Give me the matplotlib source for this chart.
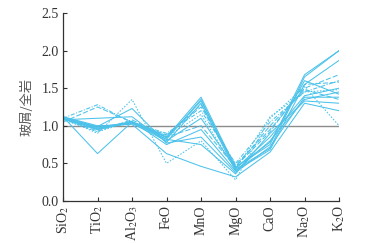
import numpy as np
import matplotlib
matplotlib.use("Agg")
import matplotlib.pyplot as plt

plt.rcParams['font.family'] = ['Liberation Serif', 'Noto Sans CJK SC']
plt.rcParams['mathtext.fontset'] = 'stix'

# oxide order along the x axis
oxides = ['SiO$_2$', 'TiO$_2$', 'Al$_2$O$_3$', 'FeO', 'MnO', 'MgO', 'CaO', 'Na$_2$O', 'K$_2$O']

# glass / whole rock ratios, one list per sample
s01 = [1.12, 0.63, 1.05, 0.85, 1.38, 0.45, 0.75, 1.68, 2.00]
s02 = [1.10, 0.98, 1.05, 0.82, 1.35, 0.42, 0.70, 1.65, 2.00]
s03 = [1.08, 1.10, 1.12, 0.78, 1.30, 0.40, 0.68, 1.55, 1.87]
s04 = [1.05, 1.25, 1.05, 0.88, 1.25, 0.48, 0.95, 1.50, 1.68]
s05 = [1.10, 1.28, 1.04, 0.90, 1.20, 0.50, 1.05, 1.45, 1.60]
s06 = [1.12, 0.97, 1.03, 0.80, 1.10, 0.43, 0.85, 1.40, 1.50]
s07 = [1.10, 0.95, 1.06, 0.75, 0.95, 0.40, 0.80, 1.35, 1.45]
s08 = [1.11, 0.99, 1.23, 0.77, 0.85, 0.38, 0.72, 1.38, 1.38]
s09 = [1.09, 0.93, 1.08, 0.85, 1.00, 0.45, 1.00, 1.48, 1.35]
s10 = [1.12, 1.00, 1.02, 0.63, 0.46, 0.32, 0.65, 1.30, 1.20]
s11 = [1.10, 0.90, 1.35, 0.50, 0.80, 0.28, 1.10, 1.52, 1.00]
s12 = [1.08, 0.92, 1.06, 0.85, 1.15, 0.42, 1.12, 1.45, 1.48]
s13 = [1.11, 0.96, 1.04, 0.82, 0.75, 0.36, 0.90, 1.33, 1.30]
s14 = [1.10, 0.98, 1.04, 0.87, 1.28, 0.46, 0.92, 1.55, 1.58]
s15 = [1.09, 0.95, 1.05, 0.84, 1.33, 0.44, 0.78, 1.60, 1.42]

samples = [s01, s02, s03, s04, s05, s06, s07, s08, s09, s10, s11, s12, s13, s14, s15]
styles = ['-', '-', '-', (0, (5, 2)), (0, (4, 1.5, 1, 1.5)), '-', '-', '-',
          (0, (5, 2)), '-', (0, (1.5, 1.5)), (0, (1.5, 1.5)), '-', (0, (5, 2)), '-']

blue = '#4cc2ea'

fig = plt.figure(figsize=(3.65, 2.43), dpi=100)
ax = fig.add_axes([0.1726, 0.173, 0.7564, 0.7735])

x = np.arange(len(oxides))
ax.axhline(1.0, color='#8c8c8c', lw=1.0, zorder=1)
for vals, ls in zip(samples, styles):
    ax.plot(x, vals, color=blue, lw=0.75, ls=ls, zorder=2)

ax.set_xlim(0, len(oxides) - 1)
ax.set_ylim(0, 2.5)
ax.set_xticks(x)
ax.set_xticklabels(oxides, rotation=90, fontsize=10, color='#333333')
ax.set_yticks(np.arange(0, 2.51, 0.5))
ax.set_yticklabels([f'{v:.1f}' for v in np.arange(0, 2.51, 0.5)], fontsize=10, color='#333333')
ax.tick_params(direction='in', length=3, width=0.8, color='#333333', pad=3)
ax.set_ylabel('玻屑/全岩', fontsize=9.5, color='#555555', labelpad=6,
              family=['Noto Sans CJK SC', 'DejaVu Sans'])

for side in ['top', 'right']:
    ax.spines[side].set_visible(False)
for side in ['left', 'bottom']:
    ax.spines[side].set_color('#333333')
    ax.spines[side].set_linewidth(0.9)

fig.savefig('out.png', dpi=100)
